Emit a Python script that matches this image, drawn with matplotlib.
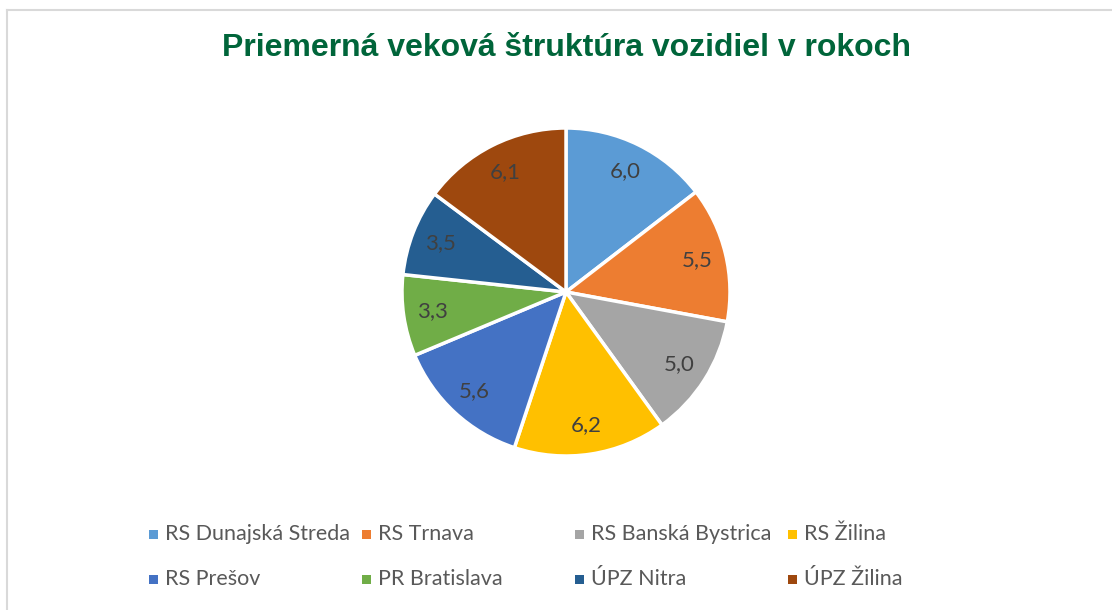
import matplotlib
matplotlib.use("Agg")
import matplotlib.pyplot as plt
from matplotlib.patches import Rectangle
from matplotlib.lines import Line2D
import numpy as np

title = "Priemerná veková štruktúra vozidiel v rokoch"
categories = ["RS Dunajská Streda", "RS Trnava", "RS Banská Bystrica", "RS Žilina",
              "RS Prešov", "PR Bratislava", "ÚPZ Nitra", "ÚPZ Žilina"]
values = [6.0, 5.5, 5.0, 6.2, 5.6, 3.3, 3.5, 6.1]
colors = ["#5B9BD5", "#ED7D31", "#A5A5A5", "#FFC000",
          "#4472C4", "#70AD47", "#255E91", "#9E480E"]

W, H = 1112, 610
fig = plt.figure(figsize=(W / 100, H / 100), dpi=100)
fig.patch.set_facecolor("white")

# chart frame (top and left edges)
fig.add_artist(Line2D([6.5 / W, 6.5 / W], [0, 1 - 9.5 / H], transform=fig.transFigure,
                      color="#D9D9D9", lw=1.5))
fig.add_artist(Line2D([6.5 / W, 1], [1 - 9.5 / H, 1 - 9.5 / H], transform=fig.transFigure,
                      color="#D9D9D9", lw=1.5))

fig.text(566 / W, 1 - 48 / H, title, ha="center", va="center",
         fontsize=23, fontweight="bold", color="#00653A", family="Liberation Sans")

# pie: centre ~ (566, 292), radius ~164 px
cx, cy, r = 566, 292, 164
ax = fig.add_axes([(cx - r) / W, 1 - (cy + r) / H, 2 * r / W, 2 * r / H])
wedges, _ = ax.pie(values, colors=colors, startangle=90, counterclock=False,
                   wedgeprops=dict(edgecolor="white", linewidth=2.5), radius=1.0)
ax.set_xlim(-1, 1)
ax.set_ylim(-1, 1)
ax.set_aspect("equal")
ax.axis("off")

for w, v in zip(wedges, values):
    ang = np.deg2rad((w.theta1 + w.theta2) / 2)
    d = 0.82
    ax.text(d * np.cos(ang), d * np.sin(ang), f"{v:.1f}".replace(".", ","),
            ha="center", va="center", fontsize=16, color="#404040", family="Lato")

# legend, two rows of four
col_x = [153, 366, 579, 792]
row_y = [534, 579]
for i, (lab, c) in enumerate(zip(categories, colors)):
    x = col_x[i % 4]
    y = row_y[i // 4]
    s = 9
    fig.add_artist(Rectangle(((x - s / 2) / W, 1 - (y + s / 2) / H), s / W, s / H,
                             transform=fig.transFigure, facecolor=c, edgecolor="none"))
    fig.text((x + 12) / W, 1 - y / H, lab, ha="left", va="center",
             fontsize=15.5, color="#595959", family="Lato")

fig.savefig("out.png", dpi=100, facecolor="white")
